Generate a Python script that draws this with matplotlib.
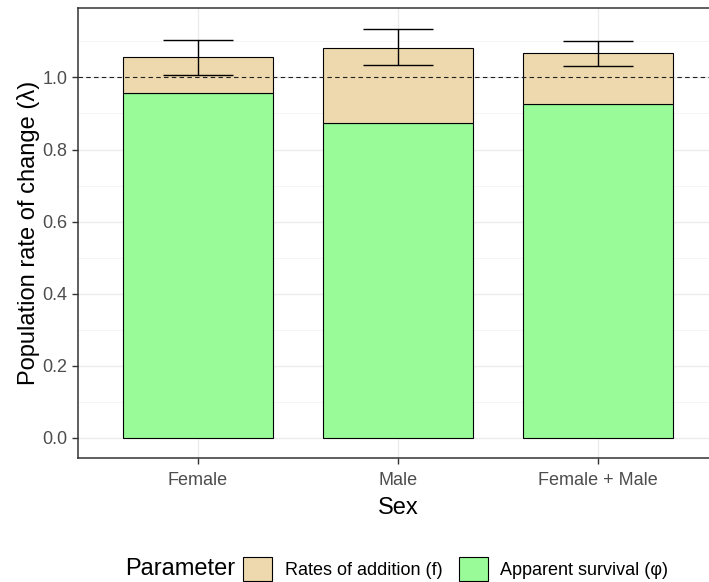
import numpy as np
import matplotlib.pyplot as plt
from matplotlib.patches import Patch

plt.rcParams['font.family'] = ['Liberation Sans', 'DejaVu Sans']

# ---- data ----
sexes = ["Female", "Male", "Female + Male"]
survival = [0.958, 0.873, 0.926]          # apparent survival (phi)
addition = [0.098, 0.210, 0.141]          # rates of addition (f)
lambda_lo = [1.007, 1.035, 1.032]
lambda_hi = [1.104, 1.136, 1.100]
y_ticks = [0.0, 0.2, 0.4, 0.6, 0.8, 1.0]

COL_ADD = "#EED8AE"    # wheat2
COL_SURV = "#98FB98"   # palegreen
GRID = "#EBEBEB"
EDGE = "#333333"


def main():
    fig = plt.figure(figsize=(7.09, 5.82), dpi=100)
    ax = fig.add_axes([78 / 709, 1 - 458 / 582, 640 / 709, 450 / 582])

    x = np.arange(1, len(sexes) + 1)
    surv = np.array(survival)
    add = np.array(addition)
    total = surv + add

    # grid (ggplot theme_bw look)
    for yv in np.arange(0.1, 1.2, 0.2):
        ax.axhline(yv, color="#F4F4F4", lw=0.6, zorder=0)
    for yv in y_ticks:
        ax.axhline(yv, color=GRID, lw=1.0, zorder=0)
    for xv in x:
        ax.axvline(xv, color=GRID, lw=1.0, zorder=0)

    ax.bar(x, surv, width=0.75, color=COL_SURV, edgecolor="black", lw=0.8, zorder=2)
    ax.bar(x, add, bottom=surv, width=0.75, color=COL_ADD, edgecolor="black", lw=0.8, zorder=2)

    lo = np.array(lambda_lo)
    hi = np.array(lambda_hi)
    ax.errorbar(x, total, yerr=[total - lo, hi - total], fmt="none",
                ecolor="black", elinewidth=1.0, capsize=25, capthick=1.0, zorder=3)

    ax.axhline(1.0, color="#222222", lw=0.8, ls=(0, (4, 3)), zorder=4)

    ax.set_xlim(0.4, 3.6)
    ax.set_ylim(-0.0568, 1.193)
    ax.set_xticks(x)
    ax.set_xticklabels(sexes)
    ax.set_yticks(y_ticks)
    ax.set_yticklabels([f"{v:.1f}" for v in y_ticks])
    ax.tick_params(colors=EDGE, labelcolor="#4D4D4D", labelsize=13, length=4, width=1.0)
    ax.tick_params(axis="x", pad=6)

    for sp in ax.spines.values():
        sp.set_color(EDGE)
        sp.set_linewidth(1.1)

    ax.set_xlabel("Sex", fontsize=17, labelpad=5.5)
    ax.set_ylabel("Population rate of change (λ)", fontsize=17, labelpad=2)

    # legend at bottom with title on the left
    fig.text(125 / 709, 1 - 569 / 582, "Parameter", fontsize=17, va="center", ha="left")
    handles = [Patch(facecolor=COL_ADD, edgecolor="black", lw=0.8),
               Patch(facecolor=COL_SURV, edgecolor="black", lw=0.8)]
    labels = ["Rates of addition (f)", "Apparent survival (φ)"]
    fig.legend(handles, labels, loc="center left", bbox_to_anchor=(238 / 709, 1 - 569 / 582),
               ncol=2, frameon=False, fontsize=13, handlelength=1.6, handleheight=1.6,
               handletextpad=0.7, columnspacing=0.9, borderaxespad=0, borderpad=0.3)

    fig.savefig("out.png", dpi=100)
    plt.close(fig)


if __name__ == "__main__":
    main()
